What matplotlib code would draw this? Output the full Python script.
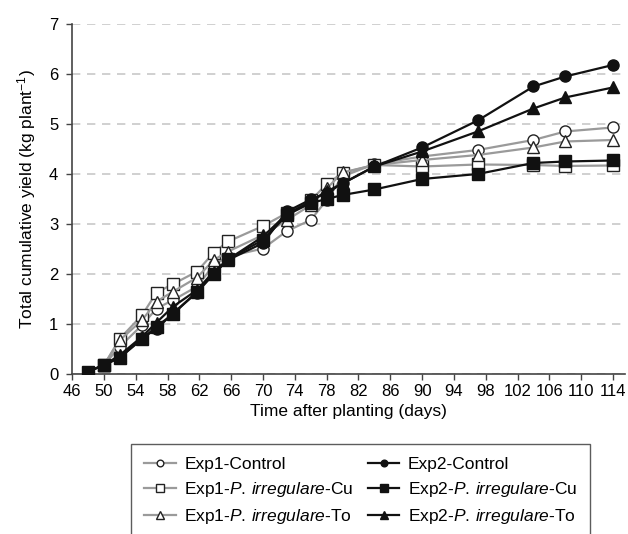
import matplotlib
matplotlib.use("Agg")
import matplotlib.pyplot as plt

# Time after planting (days)
days_exp2 = [48, 50, 52, 54.8, 56.6, 58.7, 61.7, 63.8, 65.6, 70, 73, 76, 78, 80, 84, 90, 97, 104, 108, 114]
days_exp1 = days_exp2[1:]

# Total cumulative yield (kg plant-1)
exp1_control = [0.18, 0.55, 0.98, 1.31, 1.48, 1.75, 2.18, 2.35, 2.51, 2.86, 3.08, 3.48, 3.95, 4.20, 4.35, 4.48, 4.68, 4.85, 4.93]
exp1_cu = [0.18, 0.71, 1.18, 1.63, 1.80, 2.05, 2.43, 2.65, 2.96, 3.22, 3.47, 3.80, 4.02, 4.18, 4.15, 4.19, 4.18, 4.16, 4.17]
exp1_to = [0.18, 0.68, 1.08, 1.45, 1.65, 1.93, 2.28, 2.45, 2.78, 3.08, 3.38, 3.71, 4.03, 4.18, 4.28, 4.38, 4.53, 4.65, 4.68]
exp2_control = [0.05, 0.18, 0.33, 0.72, 0.90, 1.22, 1.63, 2.00, 2.28, 2.62, 3.25, 3.49, 3.62, 3.81, 4.15, 4.53, 5.07, 5.75, 5.95, 6.18]
exp2_cu = [0.05, 0.18, 0.33, 0.70, 0.95, 1.20, 1.65, 2.01, 2.30, 2.68, 3.18, 3.42, 3.50, 3.58, 3.69, 3.90, 4.00, 4.22, 4.25, 4.27]
exp2_to = [0.05, 0.18, 0.38, 0.75, 1.03, 1.35, 1.68, 2.05, 2.29, 2.75, 3.20, 3.45, 3.65, 3.81, 4.15, 4.45, 4.85, 5.31, 5.53, 5.73]

xticks = list(range(46, 115, 4))
yticks = list(range(0, 8))

plt.rcParams["font.family"] = ["Liberation Sans", "DejaVu Sans"]
plt.rcParams["mathtext.fontset"] = "custom"
plt.rcParams["mathtext.rm"] = "Liberation Sans"
plt.rcParams["mathtext.it"] = "Liberation Sans:italic"

fig = plt.figure(figsize=(6.28, 5.34), dpi=100)
ax = fig.add_axes([0.115, 0.2996, 0.88, 0.6555])

gray = "#9a9a9a"
edge = "#222222"
black = "#111111"
pirr = "$\\it{P.\\,irregulare}$"

ax.plot(days_exp1, exp1_control, "-o", color=gray, lw=1.6, ms=8, mfc="white", mec=edge, mew=1.0,
        label="Exp1-Control", zorder=2)
ax.plot(days_exp1, exp1_cu, "-s", color=gray, lw=1.6, ms=8.5, mfc="white", mec=edge, mew=1.0,
        label="Exp1-" + pirr + "-Cu", zorder=2)
ax.plot(days_exp1, exp1_to, "-^", color=gray, lw=1.6, ms=8.5, mfc="white", mec=edge, mew=1.0,
        label="Exp1-" + pirr + "-To", zorder=2)
ax.plot(days_exp2, exp2_control, "-o", color=black, lw=1.6, ms=8, mfc=black, mec=black,
        label="Exp2-Control", zorder=3)
ax.plot(days_exp2, exp2_cu, "-s", color=black, lw=1.6, ms=8.5, mfc=black, mec=black,
        label="Exp2-" + pirr + "-Cu", zorder=3)
ax.plot(days_exp2, exp2_to, "-^", color=black, lw=1.6, ms=8.5, mfc=black, mec=black,
        label="Exp2-" + pirr + "-To", zorder=3)

ax.set_xlim(46, 115.5)
ax.set_ylim(0, 7)
ax.set_xticks(xticks)
ax.set_yticks(yticks)
ax.tick_params(axis="both", direction="out", length=4, width=1, color="#444444", labelsize=12)
ax.tick_params(axis="y", pad=6)
ax.yaxis.grid(True, linestyle=(0, (5, 4)), color="#c8c8c8", lw=1.2)
ax.set_axisbelow(True)
for side in ["top", "right"]:
    ax.spines[side].set_visible(False)
for side in ["left", "bottom"]:
    ax.spines[side].set_color("#444444")
    ax.spines[side].set_linewidth(1.2)

ax.set_xlabel("Time after planting (days)", fontsize=12.5, labelpad=3)
ax.set_ylabel("Total cumulative yield (kg plant$^{-1}$)", fontsize=12.5, labelpad=8)

leg = fig.legend(ncol=2, loc="upper left", bbox_to_anchor=(0.209, 0.0, 0.731, 0.1685), mode="expand",
                 borderaxespad=0, fontsize=12.5, frameon=True, fancybox=False, markerscale=0.6,
                 handlelength=1.8, handletextpad=0.5, labelspacing=0.45, borderpad=0.75,
                 columnspacing=1.5)
leg.get_frame().set_edgecolor("#333333")
leg.get_frame().set_linewidth(1.0)

fig.savefig("out.png", dpi=100)
